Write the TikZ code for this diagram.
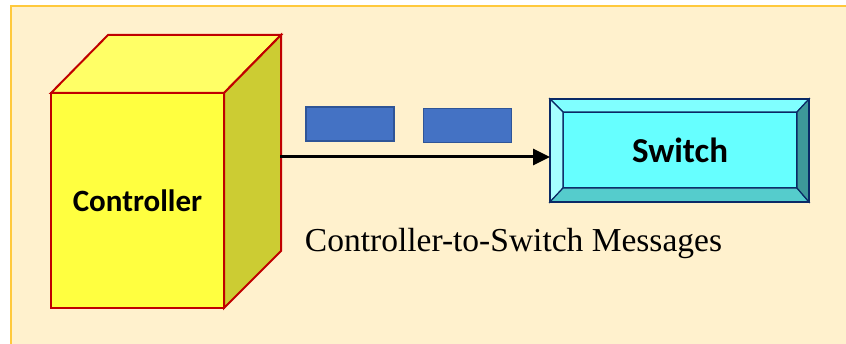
\documentclass[tikz,border=0pt]{standalone}
\usepackage{fontspec}
\setmainfont{Liberation Serif}
\newfontfamily\calibri{Carlito}
\usetikzlibrary{arrows.meta, positioning}

\definecolor{cream}{HTML}{FFF1CD}
\definecolor{panelline}{HTML}{FFC93C}
\definecolor{ctrlred}{HTML}{C00000}
\definecolor{ctrlfront}{HTML}{FFFF40}
\definecolor{ctrltop}{HTML}{FFFF66}
\definecolor{ctrlside}{HTML}{CCCC33}
\definecolor{msgblue}{HTML}{4472C4}
\definecolor{msgedge}{HTML}{2F5597}
\definecolor{swedge}{HTML}{0A2A66}
\definecolor{swface}{HTML}{66FFFF}
\definecolor{swtop}{HTML}{80FFFF}
\definecolor{swleft}{HTML}{A6FFFF}
\definecolor{swbottom}{HTML}{55CCCC}
\definecolor{swright}{HTML}{3D9999}

\begin{document}
\begin{tikzpicture}[
  x=1pt, y=-1pt,
  every node/.style={inner sep=0pt, outer sep=0pt},
  face/.style={draw=ctrlred, line width=2pt, line join=miter},
  message/.style={rectangle, draw=msgedge, fill=msgblue, line width=1.5pt, minimum width=88pt, minimum height=34pt},
  bevel/.style={draw=swedge, line width=1.2pt, line join=miter},
  arrow/.style={-{Triangle[length=17pt, width=16pt]}, line width=3pt}
]
\useasboundingbox (0,0) rectangle (846,344);

% Background
\fill[cream] (11,6) rectangle (846,344);
\draw[panelline, line width=1.5pt] (11,344) -- (11,6) -- (846,6);

% Controller
\node[face, fill=ctrlfront, minimum width=173pt, minimum height=215pt] (ctrl) at (137.5,200.5) {\calibri\bfseries\fontsize{31}{37}\selectfont Controller};
\draw[face, fill=ctrltop] (ctrl.north west) -- ++(57,-58) -- ++(173,0) -- (ctrl.north east) -- cycle;
\draw[face, fill=ctrlside] (ctrl.north east) -- ++(57,-58) -- ++(0,216) -- (ctrl.south east) -- cycle;
\coordinate (ctrlout) at (280,157);

% Messages
\node[message] (msg1) at (350,124) {};
\node[message] (msg2) at (467.5,125.5) {};

% Switch
\node[draw=swedge, line width=2pt, minimum width=259pt, minimum height=103pt] (switch) at (679.5,150.5) {};
\node[bevel, fill=swface, minimum width=234pt, minimum height=76pt] (swface) at (680,150) {\calibri\bfseries\fontsize{35}{42}\selectfont Switch};
\draw[bevel, fill=swtop] (switch.north west) -- (switch.north east) -- (swface.north east) -- (swface.north west) -- cycle;
\draw[bevel, fill=swleft] (switch.north west) -- (swface.north west) -- (swface.south west) -- (switch.south west) -- cycle;
\draw[bevel, fill=swbottom] (switch.south west) -- (swface.south west) -- (swface.south east) -- (switch.south east) -- cycle;
\draw[bevel, fill=swright] (switch.north east) -- (swface.north east) -- (swface.south east) -- (switch.south east) -- cycle;
\draw[swedge, line width=2pt] (switch.north west) rectangle (switch.south east);

% Caption
\node[font=\fontsize{33.5}{40}\selectfont] (caption) at (513.5,243) {Controller-to-Switch Messages};

% Arrow
\draw[arrow] (ctrlout) -- (ctrlout -| switch.west);

\end{tikzpicture}
\end{document}
